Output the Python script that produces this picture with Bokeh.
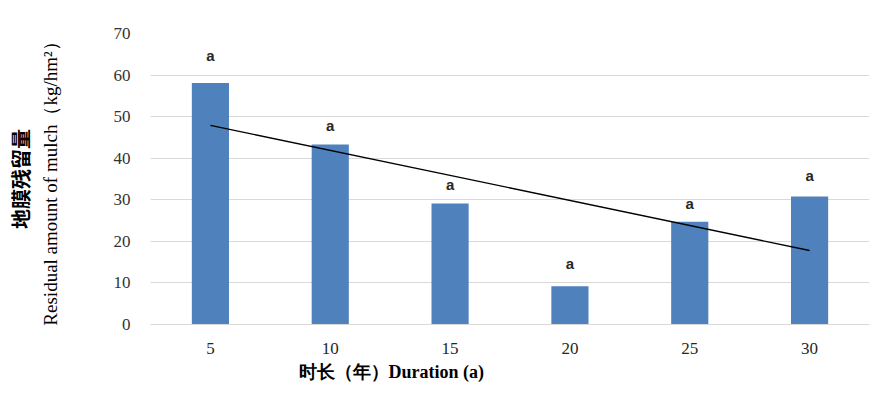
from bokeh.plotting import figure
from bokeh.models import ColumnDataSource, Title, FactorRange, Range1d, FixedTicker
from bokeh.core.properties import value
from bokeh.embed import file_html
from bokeh.resources import INLINE

# ---- data ----
durations = ["5", "10", "15", "20", "25", "30"]
residual = [58.1, 43.3, 29.1, 9.2, 24.7, 30.8]
letters = ["a", "a", "a", "a", "a", "a"]
trend_x = ["5", "30"]
trend_y = [47.9, 17.8]
y_ticks = [0, 10, 20, 30, 40, 50, 60, 70]

# ---- figure ----
p = figure(width=870, height=385, output_backend="svg", toolbar_location=None,
           x_range=FactorRange(factors=durations, range_padding=0),
           y_range=Range1d(0, 70),
           min_border_left=150, min_border_right=1, min_border_top=33, min_border_bottom=10)
p.outline_line_color = None
p.background_fill_color = "white"
p.border_fill_color = "white"

src = ColumnDataSource(dict(x=durations, top=residual, label=letters))
p.vbar(x="x", top="top", width=0.31, source=src, fill_color="#4f81bd", line_color=None)
p.line(x=trend_x, y=trend_y, line_color="#000000", line_width=1.3)

# significance letters above bars
letter_offsets_px = [-19, -10, -11, -14, -10, -12]
for xi, yi, lab, off in zip(durations, residual, letters, letter_offsets_px):
    p.text(x=[xi], y=[yi], text=[lab], text_align="center", text_baseline="bottom",
           y_offset=off, text_font=value("Liberation Sans"), text_font_style="bold",
           text_font_size="15px", text_color="#262626")

# axes
p.yaxis.ticker = FixedTicker(ticks=y_ticks)
p.yaxis.axis_line_color = None
p.yaxis.major_tick_line_color = None
p.yaxis.minor_tick_line_color = None
p.yaxis.major_label_text_font = "Liberation Serif"
p.yaxis.major_label_text_font_size = "17px"
p.yaxis.major_label_text_color = "#333333"
p.yaxis.major_label_standoff = 14
p.yaxis.axis_label = "Residual amount of mulch（kg/hm²）"
p.yaxis.axis_label_text_font = "Liberation Serif"
p.yaxis.axis_label_text_font_style = "normal"
p.yaxis.axis_label_text_font_size = "19px"
p.yaxis.axis_label_text_color = "#000000"
p.yaxis.axis_label_standoff = 50

p.xaxis.axis_line_color = "#d9d9d9"
p.xaxis.major_tick_line_color = None
p.xaxis.minor_tick_line_color = None
p.xaxis.major_label_text_font = "Liberation Serif"
p.xaxis.major_label_text_font_size = "17px"
p.xaxis.major_label_text_color = "#262626"
p.xaxis.major_label_standoff = 12

p.xgrid.grid_line_color = None
p.ygrid.grid_line_color = "#d9d9d9"
p.ygrid.grid_line_width = 1

p.add_layout(Title(text="地膜残留量", text_font="Noto Sans CJK SC", text_font_style="bold",
                   text_font_size="20px", text_color="#000000", align="center",
                   standoff=3, offset=22), "left")
p.add_layout(Title(text="时长（年）Duration (a)", text_font="Liberation Serif",
                   text_font_style="bold", text_font_size="18px", text_color="#000000",
                   align="left", offset=148, standoff=7), "below")

open("out.html", "w").write(file_html(p, INLINE))
